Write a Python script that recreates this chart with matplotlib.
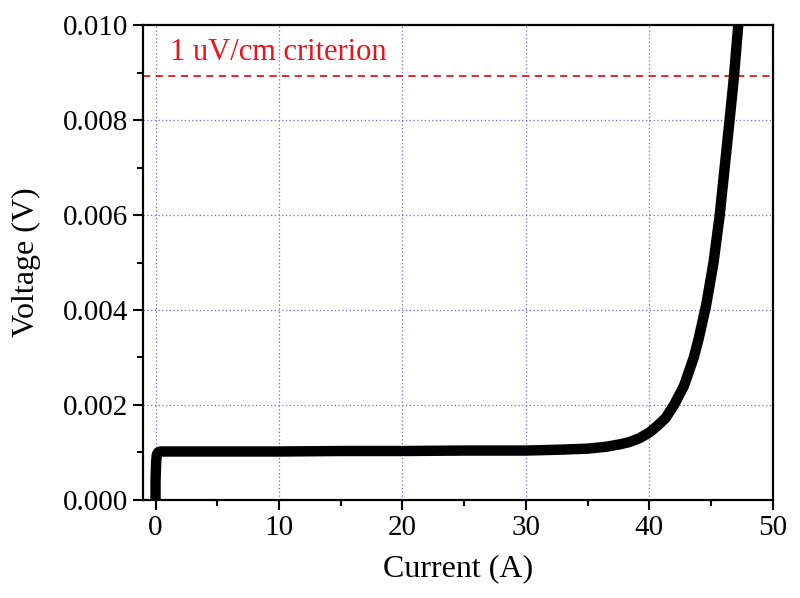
import numpy as np
import matplotlib.pyplot as plt
from matplotlib.ticker import MultipleLocator

# V-I curve (current in A, voltage in V)
current = [0.0, 0.0, 0.05, 0.1, 0.2, 0.4, 1.0, 5.0, 10.0, 15.0, 20.0, 25.0, 30.0,
           33.0, 35.0, 36.5, 37.6, 38.4, 39.2, 40.0, 40.6, 41.3, 42.0, 42.8,
           43.6, 44.0, 44.6, 45.2, 45.7, 46.1, 46.5, 46.86, 47.2, 47.3]
voltage = [0.0, 0.0004, 0.0008, 0.00095, 0.00100, 0.00102, 0.00102, 0.00102,
           0.00102, 0.00103, 0.00103, 0.00104, 0.00104, 0.00106, 0.00108,
           0.00112, 0.00117, 0.00122, 0.00130, 0.00142, 0.00155, 0.00172,
           0.00200, 0.00240, 0.00300, 0.00340, 0.00410, 0.00500, 0.00600,
           0.00700, 0.00800, 0.00893, 0.01000, 0.01030]

criterion_v = 0.00893
criterion_label = "1 uV/cm criterion"

plt.rcParams['font.family'] = ['Liberation Serif', 'DejaVu Serif']

fig = plt.figure(figsize=(8, 5.98), dpi=100)
ax = fig.add_axes([0.179, 0.164, 0.787, 0.794])

ax.plot(current, voltage, color='black', lw=7.5, solid_capstyle='round',
        solid_joinstyle='round', zorder=3)
ax.axhline(criterion_v, color='#e8141e', ls=(0, (4, 3)), lw=1.3, zorder=2)
ax.text(1.2, 0.00926, criterion_label, color='#e8141e', fontsize=22)

ax.set_xlim(-1, 50)
ax.set_ylim(0, 0.010)
ax.xaxis.set_major_locator(MultipleLocator(10))
ax.xaxis.set_minor_locator(MultipleLocator(5))
ax.yaxis.set_major_locator(MultipleLocator(0.002))
ax.yaxis.set_minor_locator(MultipleLocator(0.001))
ax.yaxis.set_major_formatter(plt.FormatStrFormatter('%.3f'))

ax.grid(True, which='major', color='#6a6ad0', ls=(0, (1, 2)), lw=0.9)
ax.set_axisbelow(True)

ax.tick_params(which='major', direction='out', length=7, width=1.5, labelsize=21)
ax.tick_params(which='minor', direction='out', length=4, width=1.5)
for s in ax.spines.values():
    s.set_linewidth(1.6)

ax.set_xlabel("Current (A)", fontsize=23, labelpad=10)
ax.set_ylabel("Voltage (V)", fontsize=23, labelpad=16)

fig.savefig("out.png", dpi=100)
